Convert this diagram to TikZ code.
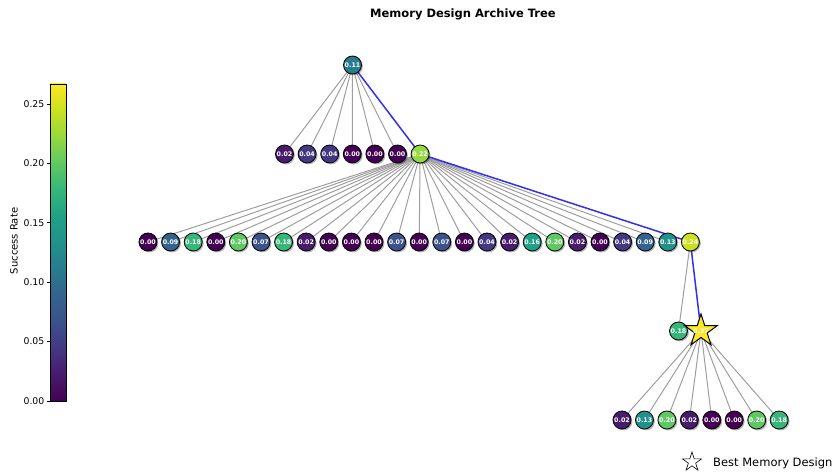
\documentclass[tikz,border=0pt]{standalone}
\usepackage{fontspec}
\setmainfont{DejaVu Sans}
\usetikzlibrary{shadows,shapes.geometric}
\definecolor{v0}{RGB}{68,1,84}
\definecolor{v1}{RGB}{72,27,109}
\definecolor{v2}{RGB}{69,56,130}
\definecolor{v3}{RGB}{59,82,139}
\definecolor{v4}{RGB}{51,99,141}
\definecolor{v5}{RGB}{41,123,142}
\definecolor{v6}{RGB}{33,145,140}
\definecolor{v7}{RGB}{31,161,135}
\definecolor{v8}{RGB}{53,183,121}
\definecolor{v9}{RGB}{94,201,98}
\definecolor{v10}{RGB}{149,216,64}
\definecolor{v11}{RGB}{202,225,31}
\definecolor{v12}{RGB}{253,231,37}
\definecolor{bestblue}{RGB}{48,48,240}
\pgfdeclareverticalshading{viridis}{100bp}{color(0bp)=(v0); color(25bp)=(v0); color(29.1667bp)=(v1); color(33.3333bp)=(v2); color(37.5bp)=(v3); color(41.6667bp)=(v4); color(45.8333bp)=(v5); color(50bp)=(v6); color(54.1667bp)=(v7); color(58.3333bp)=(v8); color(62.5bp)=(v9); color(66.6667bp)=(v10); color(70.8333bp)=(v11); color(75bp)=(v12); color(100bp)=(v12)}
\pgfdeclarelayer{bg}
\pgfsetlayers{bg,main}
\tikzset{
  tn/.style={circle, draw=black, line width=0.8pt, minimum size=18pt, inner sep=0pt,
    font=\fontsize{6.3}{6.3}\selectfont\bfseries, text=white,
    drop shadow={shadow xshift=1.4pt, shadow yshift=-1.4pt, opacity=0.3, fill=black}},
  ge/.style={draw=black!38, line width=1pt},
  be/.style={draw=bestblue, line width=1.5pt},
  bigstar/.style={star, star points=5, star point ratio=2.618, inner sep=0pt},
  ticklab/.style={anchor=east, inner sep=0pt, font=\fontsize{9.3}{9.3}\selectfont},
}
\begin{document}
\begin{tikzpicture}[x=1pt,y=-1pt]
\useasboundingbox (0,0) rectangle (836,473);
% title
\node[font=\fontsize{11.5}{11.5}\selectfont\bfseries] (title) at (463,14) {Memory Design Archive Tree};
% nodes
\node[tn, fill=v5] (r) at (352.5,65) {0.11};
\foreach \k/\t [count=\i] in {1/0.02,2/0.04,2/0.04,0/0.00,0/0.00,0/0.00,10/0.22}
  \node[tn, fill=v\k] (a\i) at ({284.5+22.6*(\i-1)},154) {\t};
\foreach \k/\t [count=\i] in {0/0.00,4/0.09,8/0.18,0/0.00,9/0.20,3/0.07,8/0.18,1/0.02,0/0.00,0/0.00,0/0.00,3/0.07,0/0.00,3/0.07,0/0.00,2/0.04,1/0.02,7/0.16,9/0.20,1/0.02,0/0.00,2/0.04,4/0.09,6/0.13,11/0.24}
  \node[tn, fill=v\k] (b\i) at ({148+22.6*(\i-1)},242) {\t};
\node[tn, fill=v8] (c1) at (678.5,331) {0.18};
\node[bigstar, minimum size=34pt, fill=v12, draw=black, line width=1pt] (best) at (701,331) {};
\node[inner sep=0pt, text=white, font=\fontsize{6.3}{6.3}\selectfont\bfseries] (bestlab) at (best.center) {0.27};
\foreach \k/\t [count=\i] in {1/0.02,6/0.13,9/0.20,1/0.02,0/0.00,0/0.00,9/0.20,8/0.18}
  \node[tn, fill=v\k] (d\i) at ({622+22.45*(\i-1)},420) {\t};
% edges
\begin{pgfonlayer}{bg}
\foreach \i in {1,...,6} \draw[ge] (r.center) -- (a\i.center);
\foreach \i in {1,...,24} \draw[ge] (a7.center) -- (b\i.center);
\draw[ge] (b25.center) -- (c1.center);
\foreach \i in {1,...,8} \draw[ge] (best.center) -- (d\i.center);
\draw[be] (r.center) -- (a7.center);
\draw[be] (a7.center) -- (b25.center);
\draw[be] (b25.center) -- (best.center);
\end{pgfonlayer}
% colorbar
\shade[shading=viridis] (50,84) rectangle (66,401);
\draw[line width=0.8pt] (50,84) rectangle (66,401);
\foreach \v [count=\i] in {0.00,0.05,0.10,0.15,0.20,0.25} {
  \draw[line width=0.8pt] (50,{401-59.4*(\i-1)}) -- (46.5,{401-59.4*(\i-1)});
  \node[ticklab] (tk\i) at (44.5,{401-59.4*(\i-1)}) {\v};
}
\node[rotate=90, font=\fontsize{10}{10}\selectfont] (cblabel) at (14,241) {Success Rate};
% legend
\node[bigstar, minimum size=20pt, draw=black, line width=0.6pt] (legstar) at (692,462) {};
\node[anchor=west, inner sep=0pt, font=\fontsize{11.5}{11.5}\selectfont] (legtext) at (713,463) {Best Memory Design};
\end{tikzpicture}
\end{document}
